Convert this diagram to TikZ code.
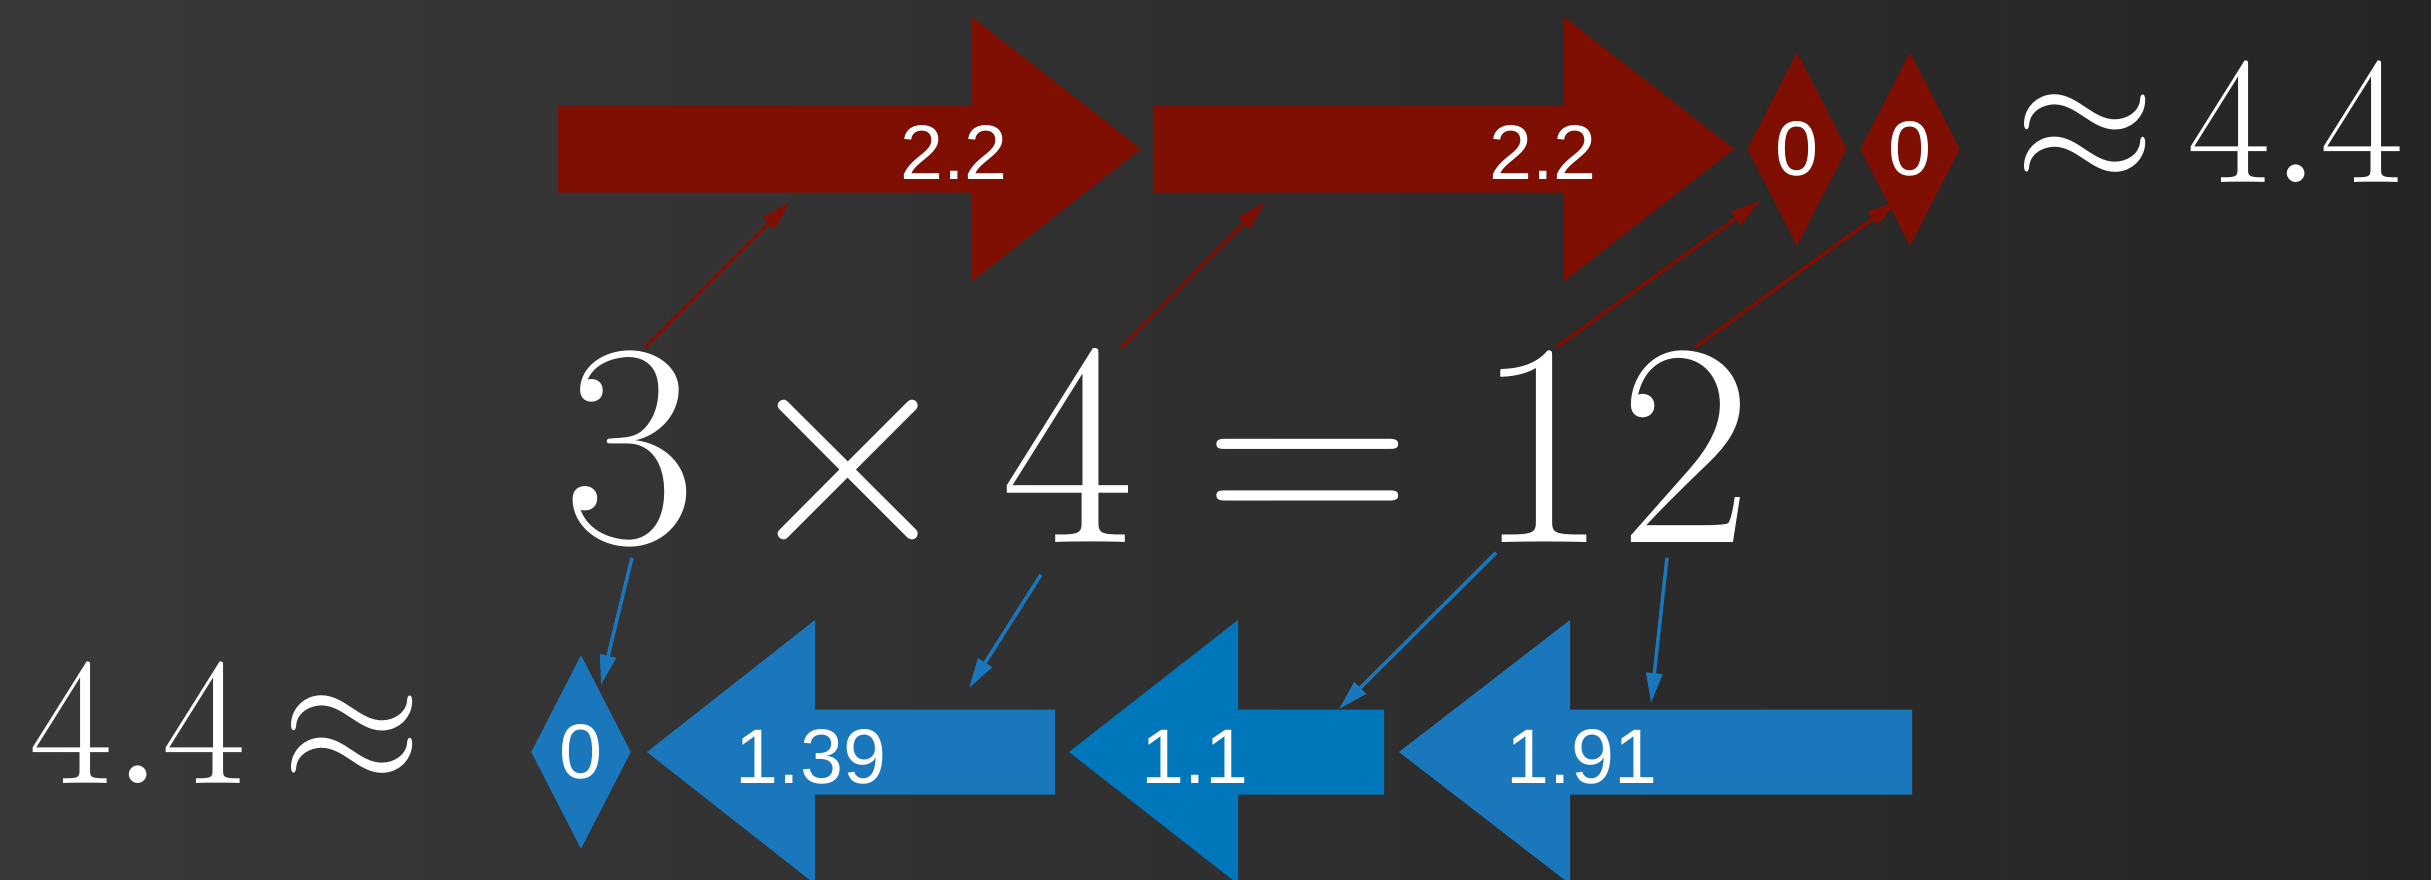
\RequirePackage{fix-cm}
\documentclass[tikz,border=0pt]{standalone}
\usepackage{fontspec}
\setsansfont{Liberation Sans}
\usetikzlibrary{arrows.meta, positioning, shapes.geometric}
\definecolor{arrowred}{HTML}{7F0F02}
\definecolor{arrowblue}{HTML}{1A77BC}
\definecolor{arrowbluedeep}{HTML}{0077BB}
\definecolor{boardlight}{HTML}{393939}
\definecolor{boarddark}{HTML}{252525}

\begin{document}
\begin{tikzpicture}[
    big/.style={inner sep=0, anchor=base, text=white, font=\fontsize{82.5}{90}\selectfont},
    mid/.style={inner sep=0, anchor=base, text=white, font=\fontsize{51.7}{60}\selectfont},
    val/.style={inner sep=0, anchor=base, text=white, font=\sffamily\fontsize{22}{26}\selectfont},
    gem/.style={diamond, fill=#1, inner sep=0, minimum width=1.0cm, minimum height=1.94cm, text=white, font=\sffamily\fontsize{22}{26}\selectfont},
    link/.style={-{Triangle[length=3mm, width=1.6mm]}, line width=1pt},
]
    % board
    \useasboundingbox (0,0) rectangle (24.31,8.79);
    \shade[left color=boardlight, right color=boarddark] (0,0) rectangle (24.31,8.79);

    % upper row (red)
    \fill[arrowred] (5.58,7.735) -- (9.72,7.735) -- (9.72,8.62) -- (11.41,7.30) -- (9.72,5.98) -- (9.72,6.865) -- (5.58,6.865) -- cycle;
    \fill[arrowred] (11.53,7.735) -- (15.64,7.735) -- (15.64,8.62) -- (17.34,7.30) -- (15.64,5.98) -- (15.64,6.865) -- (11.53,6.865) -- cycle;
    \node[val] (vR1) at (9.54,7.00) {2.2};
    \node[val] (vR2) at (15.43,7.00) {2.2};
    \node[gem=arrowred] (zR1) at (17.97,7.30) {0};
    \node[gem=arrowred] (zR2) at (19.10,7.30) {0};
    \node[mid] (apR) at (20.85,6.97) {$\approx$};
    \node[mid] (sumR) at (22.96,6.97) {$4.4$};

    % the product
    \node[big] (n3) at (6.30,3.37) {$3$};
    \node[big] (times) at (8.48,3.37) {$\times$};
    \node[big] (n4) at (10.68,3.37) {$4$};
    \node[big] (eq) at (13.08,3.37) {$=$};
    \node[big] (n1) at (15.42,3.37) {$1$};
    \node[big] (n2) at (16.86,3.37) {$2$};

    % lower row (blue)
    \fill[arrowblue] (6.47,1.27) -- (8.15,2.59) -- (8.15,1.695) -- (10.55,1.695) -- (10.55,0.845) -- (8.15,0.845) -- (8.15,-0.05) -- cycle;
    \fill[arrowbluedeep] (10.69,1.27) -- (12.38,2.59) -- (12.38,1.695) -- (13.84,1.695) -- (13.84,0.845) -- (12.38,0.845) -- (12.38,-0.05) -- cycle;
    \fill[arrowblue] (13.99,1.27) -- (15.70,2.59) -- (15.70,1.695) -- (19.12,1.695) -- (19.12,0.845) -- (15.70,0.845) -- (15.70,-0.05) -- cycle;
    \node[val] (vB1) at (8.11,0.96) {1.39};
    \node[val] (vB2) at (11.95,0.96) {1.1};
    \node[val] (vB3) at (15.82,0.96) {1.91};
    \node[gem=arrowblue] (zB) at (5.81,1.27) {0};
    \node[mid] (sumL) at (1.38,0.96) {$4.4$};
    \node[mid] (apL) at (3.52,0.96) {$\approx$};

    % where the links land
    \coordinate (toR3) at (7.90,6.77);
    \coordinate (toR4) at (12.65,6.77);
    \coordinate (toR1) at (17.60,6.78);
    \coordinate (toR2) at (18.97,6.78);
    \coordinate (toB3) at (6.01,1.94);
    \coordinate (toB4) at (9.69,1.91);
    \coordinate (toB1) at (13.39,1.70);
    \coordinate (toB2) at (16.51,1.76);

    % links
    \draw[link, arrowred] ([shift={(0.15,0.07)}]n3.north) -- (toR3);
    \draw[link, arrowred] ([shift={(0.53,0.07)}]n4.north) -- (toR4);
    \draw[link, arrowred] ([shift={(0.14,0.07)}]n1.north) -- (toR1);
    \draw[link, arrowred] ([shift={(0.09,0.07)}]n2.north) -- (toR2);
    \draw[link, arrowblue] ([shift={(0.02,-0.15)}]n3.south) -- (toB3);
    \draw[link, arrowblue] ([shift={(-0.27,-0.32)}]n4.south) -- (toB4);
    \draw[link, arrowblue] ([shift={(-0.46,-0.10)}]n1.south) -- (toB1);
    \draw[link, arrowblue] ([shift={(-0.19,-0.15)}]n2.south) -- (toB2);
\end{tikzpicture}
\end{document}
